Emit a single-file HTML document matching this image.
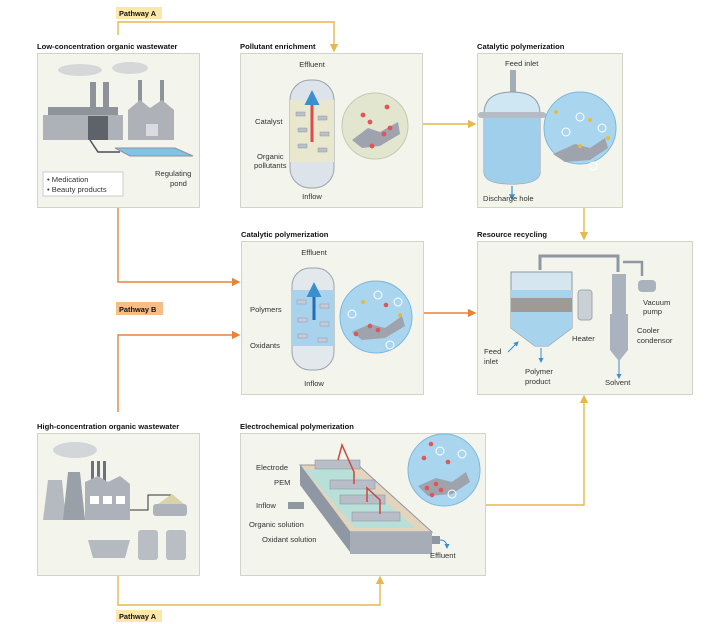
<!DOCTYPE html>
<html><head><meta charset="utf-8"><style>
body{margin:0;background:#fff}
svg{display:block}
text{font-family:"Liberation Sans",sans-serif;fill:#333}
.t{font-weight:bold;font-size:7.6px;fill:#111}
.l{font-size:7.6px}
.p{fill:#f3f4ec;stroke:#d2d4c6;stroke-width:1}
</style></head><body>
<svg width="705" height="624" viewBox="0 0 705 624" xmlns="http://www.w3.org/2000/svg">
<defs>
<marker id="ay" markerWidth="6" markerHeight="6" refX="5" refY="3" orient="auto"><path d="M0,0 L6,3 L0,6z" fill="#e6b94c"/></marker>
<marker id="ao" markerWidth="6" markerHeight="6" refX="5" refY="3" orient="auto"><path d="M0,0 L6,3 L0,6z" fill="#e8843a"/></marker>
<marker id="ab" markerWidth="5" markerHeight="5" refX="4" refY="2.5" orient="auto"><path d="M0,0 L5,2.5 L0,5z" fill="#3a8fcf"/></marker>
</defs>

<!-- connectors -->
<g fill="none" stroke-width="1.4">
<path d="M118,35 V22 H334 V51" stroke="#e6b94c" marker-end="url(#ay)"/>
<path d="M422,124 H475" stroke="#e6b94c" marker-end="url(#ay)"/>
<path d="M584,207 V239" stroke="#e6b94c" marker-end="url(#ay)"/>
<path d="M485,505 H584 V396" stroke="#e6b94c" marker-end="url(#ay)"/>
<path d="M118,576 V605 H380 V577" stroke="#e6b94c" marker-end="url(#ay)"/>
<path d="M118,207 V282 H239" stroke="#e8843a" marker-end="url(#ao)"/>
<path d="M118,412 V335 H239" stroke="#e8843a" marker-end="url(#ao)"/>
<path d="M423,313 H475" stroke="#e8843a" marker-end="url(#ao)"/>
</g>

<rect x="116" y="7" width="46" height="12" fill="#fbe7a8"/>
<text x="119" y="16" class="t" style="font-size:7.4px">Pathway A</text>
<rect x="116" y="302" width="47" height="13" fill="#f6bd87"/>
<text x="119" y="312" class="t" style="font-size:7.4px">Pathway B</text>
<rect x="116" y="610" width="46" height="12" fill="#fbe7a8"/>
<text x="119" y="619" class="t" style="font-size:7.4px">Pathway A</text>

<!-- titles -->
<text x="37" y="49" class="t">Low-concentration organic wastewater</text>
<text x="240" y="49" class="t">Pollutant enrichment</text>
<text x="477" y="49" class="t">Catalytic polymerization</text>
<text x="241" y="237" class="t">Catalytic polymerization</text>
<text x="477" y="237" class="t">Resource recycling</text>
<text x="37" y="429" class="t">High-concentration organic wastewater</text>
<text x="240" y="429" class="t">Electrochemical polymerization</text>

<!-- panels -->
<rect class="p" x="37.5" y="53.5" width="162" height="154"/>
<rect class="p" x="240.5" y="53.5" width="182" height="154"/>
<rect class="p" x="477.5" y="53.5" width="145" height="154"/>
<rect class="p" x="241.5" y="241.5" width="182" height="153"/>
<rect class="p" x="477.5" y="241.5" width="215" height="153"/>
<rect class="p" x="37.5" y="433.5" width="162" height="142"/>
<rect class="p" x="240.5" y="433.5" width="245" height="142"/>

<!-- panel1 -->
<g>
<ellipse cx="80" cy="70" rx="22" ry="6" fill="#d5d7d9"/>
<ellipse cx="130" cy="68" rx="18" ry="6" fill="#d5d7d9"/>
<rect x="90" y="82" width="6" height="25" fill="#8e9299"/>
<rect x="103" y="82" width="6" height="25" fill="#8e9299"/>
<rect x="138" y="80" width="4" height="28" fill="#8e9299"/>
<rect x="160" y="80" width="4" height="28" fill="#8e9299"/>
<rect x="48" y="107" width="70" height="8" fill="#8f949b"/>
<rect x="43" y="115" width="80" height="25" fill="#aeb2b8"/>
<rect x="88" y="116" width="20" height="24" fill="#5e636b"/>
<path d="M128,140 V110 L140,100 L150,108 L162,100 L174,110 V140z" fill="#aeb2b8"/>
<rect x="146" y="124" width="12" height="12" fill="#d9dbde"/>
<path d="M115,148 L175,148 L193,156 L130,156z" fill="#7fc3e6" stroke="#8e9299"/>
<path d="M90,140 L98,152 H120" stroke="#4b4f56" fill="none" stroke-width="1.5"/>
<rect x="43" y="172" width="80" height="24" fill="#fff" stroke="#ccc"/>
<text x="47" y="182" class="l">• Medication</text>
<text x="47" y="192" class="l">• Beauty products</text>
<text x="155" y="176" class="l">Regulating</text>
<text x="170" y="186" class="l">pond</text>
</g>

<!-- panel2 -->
<g>
<text x="312" y="67" class="l" text-anchor="middle">Effluent</text>
<rect x="290" y="80" width="44" height="108" rx="20" fill="#dde3ea" stroke="#9aa3ad"/>
<rect x="290" y="100" width="44" height="62" fill="#e9e8cf"/>
<path d="M312,142 V93" stroke="#e0484a" stroke-width="3" marker-end="url(#ab)"/>
<g fill="#b9c0c9" stroke="#8f98a3" stroke-width=".5">
<rect x="296" y="112" width="9" height="4"/><rect x="318" y="116" width="9" height="4"/><rect x="298" y="128" width="9" height="4"/><rect x="320" y="132" width="9" height="4"/><rect x="298" y="144" width="9" height="4"/><rect x="318" y="148" width="9" height="4"/></g>
<text x="255" y="124" class="l">Catalyst</text>
<text x="257" y="159" class="l">Organic</text>
<text x="254" y="168" class="l">pollutants</text>
<text x="312" y="199" class="l" text-anchor="middle">Inflow</text>
<circle cx="375" cy="126" r="33" fill="#e3e6cf" stroke="#c6cab0"/>
<path d="M352,140 L368,128 L380,132 L398,122 L400,134 L380,146 L362,148z" fill="#9ea3ad"/>
<g fill="#e05558"><circle cx="363" cy="115" r="2.4"/><circle cx="370" cy="122" r="2.4"/><circle cx="387" cy="107" r="2.4"/><circle cx="384" cy="134" r="2.4"/><circle cx="390" cy="128" r="2.4"/><circle cx="372" cy="146" r="2.4"/></g>
</g>

<!-- panel3 -->
<g>
<text x="505" y="66" class="l">Feed inlet</text>
<rect x="510" y="70" width="6" height="24" fill="#a4acb8"/>
<path d="M484,114 Q484,92 512,92 Q540,92 540,114 V172 Q540,184 512,184 Q484,184 484,172z" fill="#cfe6f3" stroke="#8f9aa7"/>
<path d="M484,118 H540 V172 Q540,184 512,184 Q484,184 484,172z" fill="#9fcfea"/>
<rect x="478" y="112" width="68" height="6" rx="3" fill="#b5bcc6"/>
<path d="M512,186 V199" stroke="#3a8fcf" stroke-width="1.2" marker-end="url(#ab)"/>
<text x="483" y="201" class="l">Discharge hole</text>
<circle cx="580" cy="128" r="36" fill="#a9d5ef" stroke="#7ab8de"/>
<path d="M553,154 L575,144 L590,148 L605,138 L608,148 L590,160 L565,162z" fill="#9ea3ad"/>
<g fill="#e8bb3c"><circle cx="556" cy="112" r="2"/><circle cx="590" cy="120" r="2"/><circle cx="608" cy="138" r="2"/><circle cx="580" cy="146" r="2"/></g>
<g fill="none" stroke="#fff"><circle cx="580" cy="117" r="4"/><circle cx="566" cy="132" r="4"/><circle cx="602" cy="128" r="4"/><circle cx="593" cy="166" r="4"/></g>
</g>

<!-- panel4 -->
<g>
<text x="314" y="255" class="l" text-anchor="middle">Effluent</text>
<rect x="292" y="268" width="42" height="102" rx="18" fill="#e3e8ed" stroke="#9aa3ad"/>
<rect x="292" y="290" width="42" height="56" fill="#a9d2ec"/>
<path d="M314,320 V285" stroke="#1f6fb5" stroke-width="3" marker-end="url(#ab)"/>
<g fill="#c7cad8" stroke="#8f98a3" stroke-width=".5">
<rect x="297" y="300" width="9" height="4"/><rect x="320" y="304" width="9" height="4"/><rect x="298" y="318" width="9" height="4"/><rect x="320" y="322" width="9" height="4"/><rect x="298" y="334" width="9" height="4"/><rect x="318" y="338" width="9" height="4"/></g>
<text x="250" y="312" class="l">Polymers</text>
<text x="250" y="348" class="l">Oxidants</text>
<text x="314" y="386" class="l" text-anchor="middle">Inflow</text>
<circle cx="376" cy="317" r="36" fill="#a9d5ef" stroke="#7ab8de"/>
<path d="M352,332 L370,324 L385,328 L402,316 L405,326 L385,338 L362,340z" fill="#9ea3ad"/>
<g fill="#e05558"><circle cx="370" cy="326" r="2.3"/><circle cx="378" cy="330" r="2.3"/><circle cx="356" cy="334" r="2.3"/><circle cx="386" cy="305" r="2.3"/></g>
<g fill="#e8bb3c"><circle cx="363" cy="302" r="2"/><circle cx="400" cy="315" r="2"/></g>
<g fill="none" stroke="#fff"><circle cx="378" cy="295" r="4"/><circle cx="352" cy="314" r="4"/><circle cx="398" cy="302" r="4"/><circle cx="390" cy="345" r="4"/></g>
</g>

<!-- panel5 -->
<g>
<path d="M540,270 V256 H618 V272" fill="none" stroke="#8f97a3" stroke-width="3"/>
<path d="M623,262 H642 V276" fill="none" stroke="#8f97a3" stroke-width="2.5"/>
<path d="M511,272 H572 V328 L548,346 H535 L511,328z" fill="#d6e6f0" stroke="#8f97a3"/>
<path d="M511,290 H572 V328 L548,346 H535 L511,328z" fill="#a8d3ec"/>
<rect x="511" y="298" width="61" height="14" fill="#9f9a94"/>
<rect x="578" y="290" width="14" height="30" rx="3" fill="#cbd0d6" stroke="#a1a8b1"/>
<rect x="612" y="274" width="14" height="40" fill="#aab2be"/>
<path d="M610,314 H628 V350 L620,360 L618,360 L610,350z" fill="#aab2be"/>
<rect x="638" y="280" width="18" height="12" rx="4" fill="#aab2be"/>
<path d="M541,348 V362" stroke="#3a8fcf" marker-end="url(#ab)"/>
<path d="M619,360 V378" stroke="#3a8fcf" marker-end="url(#ab)"/>
<path d="M508,352 L518,342" stroke="#3a8fcf" marker-end="url(#ab)"/>
<text x="643" y="305" class="l">Vacuum</text>
<text x="643" y="314" class="l">pump</text>
<text x="637" y="333" class="l">Cooler</text>
<text x="637" y="343" class="l">condensor</text>
<text x="572" y="341" class="l">Heater</text>
<text x="484" y="354" class="l">Feed</text>
<text x="484" y="364" class="l">inlet</text>
<text x="525" y="374" class="l">Polymer</text>
<text x="525" y="384" class="l">product</text>
<text x="605" y="385" class="l">Solvent</text>
</g>

<!-- panel6 -->
<g>
<ellipse cx="75" cy="450" rx="22" ry="8" fill="#d3d6d9"/>
<path d="M43,520 L48,480 H62 L66,520z" fill="#b5bac1"/>
<path d="M63,520 L68,472 H80 L85,520z" fill="#9aa0a8"/>
<rect x="91" y="461" width="3" height="22" fill="#6d727a"/><rect x="97" y="461" width="3" height="22" fill="#6d727a"/><rect x="103" y="461" width="3" height="22" fill="#6d727a"/>
<path d="M85,520 V482 L98,476 L108,482 L120,476 L130,484 V520z" fill="#adb2ba"/>
<rect x="90" y="496" width="9" height="8" fill="#fff"/><rect x="103" y="496" width="9" height="8" fill="#fff"/><rect x="116" y="496" width="9" height="8" fill="#fff"/>
<path d="M130,510 H148 V495 H172" fill="none" stroke="#333"/>
<rect x="153" y="504" width="34" height="12" rx="3" fill="#aeb3bb"/>
<path d="M158,504 L172,494 L184,504z" fill="#d8d4a8"/>
<path d="M88,540 H130 L125,558 H93z" fill="#b5bac1"/>
<rect x="138" y="530" width="20" height="30" rx="3" fill="#b9bec5"/>
<rect x="166" y="530" width="20" height="30" rx="3" fill="#b9bec5"/>
</g>

<!-- panel7 -->
<g>
<path d="M300,465 H358 L432,532 H350z" fill="#e2d4bd" stroke="#8f97a3"/>
<path d="M305,470 L350,470 L415,528 H355z" fill="#b8e0d8"/>
<path d="M300,465 V485 L350,552 V532z" fill="#8f97a3"/>
<rect x="350" y="532" width="82" height="22" fill="#a7adb6"/>
<g fill="#b8bec7" stroke="#8f97a3" stroke-width=".6"><rect x="315" y="460" width="45" height="9"/><rect x="330" y="480" width="45" height="9"/><rect x="340" y="495" width="45" height="9"/><rect x="352" y="512" width="48" height="9"/></g>
<path d="M338,460 L342,445 L354,472 V484" fill="none" stroke="#d0463e" stroke-width="1.5"/>
<path d="M367,502 V488 L380,500 V514" fill="none" stroke="#d0463e" stroke-width="1.5"/>
<rect x="288" y="502" width="16" height="7" fill="#8f97a3"/>
<rect x="432" y="536" width="8" height="8" fill="#8f97a3"/>
<path d="M440,540 Q447,540 447,548" fill="none" stroke="#3a8fcf" marker-end="url(#ab)"/>
<text x="256" y="470" class="l">Electrode</text>
<text x="274" y="485" class="l">PEM</text>
<text x="256" y="508" class="l">Inflow</text>
<text x="249" y="527" class="l">Organic solution</text>
<text x="262" y="542" class="l">Oxidant solution</text>
<text x="430" y="558" class="l">Effluent</text>
<circle cx="444" cy="470" r="36" fill="#a9d5ef" stroke="#7ab8de"/>
<path d="M418,486 L436,478 L452,482 L466,472 L470,482 L452,494 L428,496z" fill="#9ea3ad"/>
<g fill="#e05558"><circle cx="427" cy="488" r="2.3"/><circle cx="436" cy="484" r="2.3"/><circle cx="441" cy="490" r="2.3"/><circle cx="424" cy="458" r="2.3"/><circle cx="432" cy="495" r="2.3"/><circle cx="448" cy="462" r="2.3"/><circle cx="431" cy="444" r="2.3"/></g>
<g fill="none" stroke="#fff"><circle cx="440" cy="451" r="4"/><circle cx="462" cy="454" r="4"/><circle cx="452" cy="494" r="4"/></g>
</g>
</svg>
</body></html>
